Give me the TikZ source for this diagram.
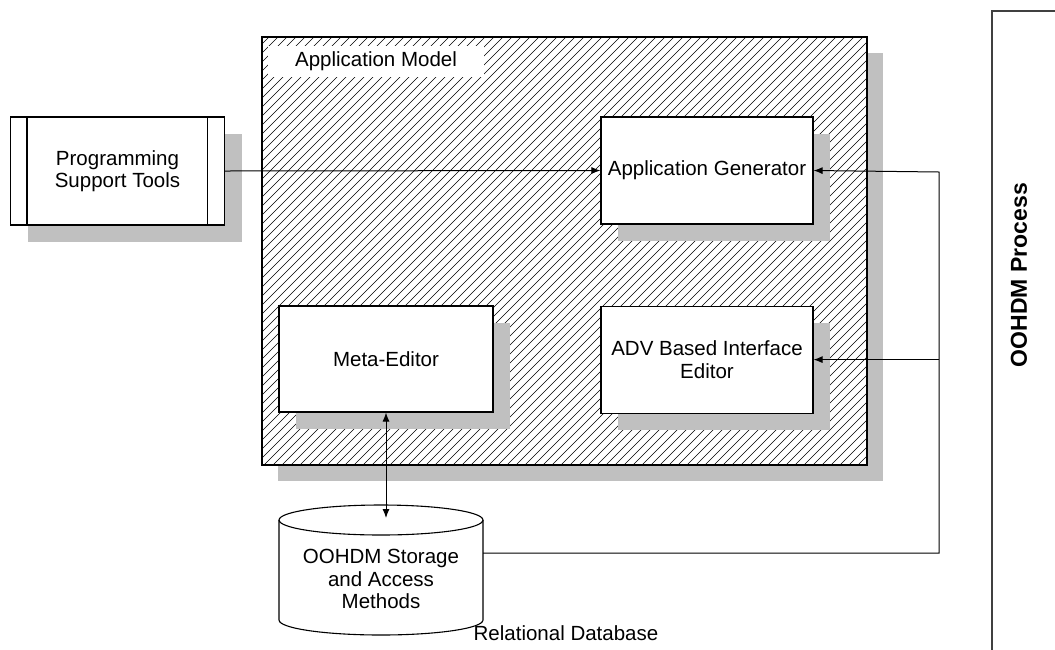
\documentclass[tikz,border=0pt]{standalone}
\usepackage{fontspec}
\setmainfont{Liberation Sans}
\usetikzlibrary{arrows.meta, positioning, shadows}
\definecolor{shgray}{RGB}{192,192,192}
\definecolor{framegray}{RGB}{64,64,64}

\begin{document}
\begin{tikzpicture}[x=1pt, y=-1pt, >={Latex[length=9pt,width=7pt]},
    font=\fontsize{20.5}{22.5}\selectfont,
    boxshadow/.style={drop shadow={shadow xshift=17pt, shadow yshift=-17pt, fill=shgray, opacity=1}},
    unit/.style={draw, line width=1.1pt, fill=white, align=center, inner sep=2pt, boxshadow},
    hatch/.style={line width=0.6pt},
    conn/.style={line width=1pt}]
    \useasboundingbox (0,0) rectangle (1055,649);
    % the hatched application model
    \node[draw, line width=1.1pt, fill=white, minimum width=605pt, minimum height=428pt,
          drop shadow={shadow xshift=16pt, shadow yshift=-16pt, fill=shgray, opacity=1}] (app) at (564.5,251) {};
    \begin{scope}
        \clip (app.south west) rectangle (app.north east);
        \foreach \k in {0,...,116}
            \draw[hatch] ([xshift=\k*9pt-430pt]app.south west) -- ++(440pt,440pt);
    \end{scope}
    \draw[line width=1.1pt] (app.south west) rectangle (app.north east);
    \node[fill=white, minimum width=216pt, minimum height=31pt] (applabel) at (376,61.5) {Application Model};
    % boxes
    \node[unit, minimum width=214pt, minimum height=108pt] (tools) at (117.5,171) {Programming\\Support Tools};
    \draw[line width=1.1pt] ([xshift=17pt]tools.north west) -- ([xshift=17pt]tools.south west);
    \draw[line width=1.1pt] ([xshift=-18pt]tools.north east) -- ([xshift=-18pt]tools.south east);
    \node[unit, minimum width=212pt, minimum height=107pt] (gen) at (707,170.5) {Application Generator};
    \node[unit, minimum width=212pt, minimum height=107pt, below=81pt of gen] (adv) {ADV Based Interface\\Editor};
    \node[unit, minimum width=214pt, minimum height=106pt] (meta) at (386,359) {Meta-Editor};
    % the database cylinder
    \draw[line width=1.1pt, fill=white] (279,520) -- (279,620)
        arc[start angle=180, end angle=0, x radius=102, y radius=15] -- (483,520);
    \draw[line width=1.1pt] (381,520) ellipse [x radius=102, y radius=15];
    \node[align=center] (db) at (381,579) {OOHDM Storage\\and Access\\Methods};
    \node (dblabel) at (566,633) {Relational Database};
    \coordinate (dbtop) at (386,518);
    \coordinate (dbright) at (483,553);
    \coordinate (bus) at (939,172);
    % connectors
    \draw[conn, ->] (tools.east) -- (gen.west);
    \draw[conn, ->] (dbright) -| (bus) -- (gen.east);
    \draw[conn, ->] (bus |- adv.east) -- (adv.east);
    \draw[conn, <->] (meta.south) -- (dbtop);
    % process frame on the right
    \draw[line width=2pt, framegray] (1060,11) -- (992,11) -- (992,655);
    \node[rotate=90, font=\fontsize{23}{25}\selectfont\bfseries] (process) at (1019,275) {OOHDM Process};
\end{tikzpicture}
\end{document}
